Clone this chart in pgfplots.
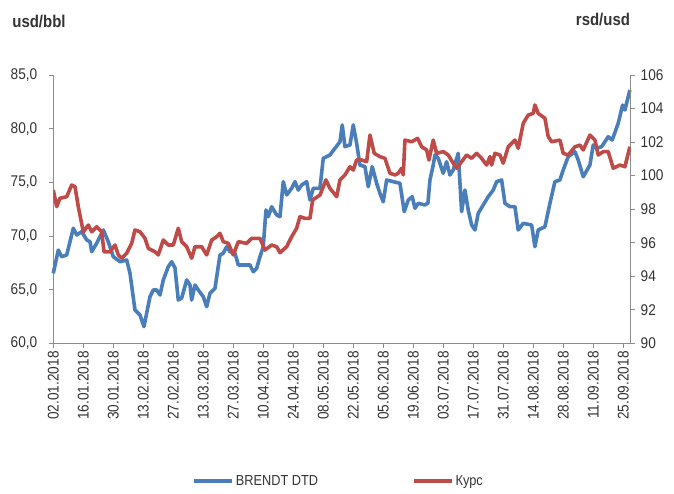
\documentclass[border=0pt]{standalone}
\usepackage{fontspec}
\setmainfont{Liberation Sans}[FakeStretch=0.88]
\usepackage{pgfplots}
\pgfplotsset{compat=1.18}
\definecolor{brentblue}{HTML}{4A7EBB}
\definecolor{kursred}{HTML}{BE4B48}
\definecolor{axisgray}{HTML}{8C8C8C}
\definecolor{txt}{HTML}{333333}
\begin{document}
\begin{tikzpicture}
\useasboundingbox (-53.3pt,-150.7pt) rectangle (620.7pt,343.3pt);
\pgfplotsset{
  every axis/.append style={
    scale only axis, width=577.4pt, height=268.3pt,
    at={(0pt,0pt)}, anchor=south west,
    xmin=0, xmax=192.5,
    tick align=outside, major tick length=4.5pt,
    every tick/.style={draw=axisgray, line width=0.9pt},
    axis line style={draw=axisgray, line width=1.1pt},
    tick label style={font=\fontsize{15.5pt}{18pt}\selectfont, text=txt},
    /pgf/number format/assume math mode=true,
  }
}
\begin{axis}[
  axis y line*=left, axis x line*=bottom,
  ymin=60, ymax=85, ytick={60,65,70,75,80,85},
  yticklabel style={xshift=-8pt, /pgf/number format/.cd, fixed, fixed zerofill, precision=1, use comma},
  xtick={0,10,...,190},
  xticklabels={02.01.2018,16.01.2018,30.01.2018,13.02.2018,27.02.2018,13.03.2018,27.03.2018,10.04.2018,24.04.2018,08.05.2018,22.05.2018,05.06.2018,19.06.2018,03.07.2018,17.07.2018,31.07.2018,14.08.2018,28.08.2018,11.09.2018,25.09.2018},
  x tick label style={rotate=90, anchor=east, xshift=0pt},
  clip=false,
]
\addplot[brentblue, line width=3.6pt, line join=round, no markers] coordinates {
(0,66.52)(1.67,68.69)(2.8,68.07)(4.47,68.23)(6.67,70.72)(7.8,70.09)(9.47,70.40)(11.13,69.63)(12.23,69.47)(12.8,68.54)(14.47,69.32)(16.67,70.56)(18.33,69.47)(20,68.07)(22.23,67.60)(24.47,67.76)(25.57,66.52)(27.23,63.10)(28.9,62.64)(30.23,61.55)(32.23,64.34)(33.33,64.97)(34.47,64.97)(35.57,64.50)(36.67,65.90)(38.33,67.14)(39.47,67.60)(40.57,67.02)(41.67,64.03)(42.8,64.22)(44.47,65.90)(45.57,65.43)(46.13,64.03)(47.23,65.43)(48.33,64.97)(50,64.34)(51.13,63.41)(52.23,64.66)(53.9,65.12)(55.57,68.23)(56.67,68.39)(57.8,69.00)(58.9,68.54)(60.57,68.39)(61.67,67.30)(63.9,67.30)(65.57,67.30)(66.67,66.67)(67.8,66.99)(68.9,68.07)(70,69.00)(70.9,72.42)(71.67,71.80)(72.8,72.73)(74.47,71.96)(75.57,71.80)(76.67,75.06)(77.8,73.82)(79.47,74.44)(80.57,75.06)(81.67,74.28)(82.8,74.75)(84.47,75.06)(85.57,73.35)(86.67,74.44)(88.9,74.44)(90,77.24)(92.23,77.55)(93.9,78.17)(95.57,78.78)(96.33,80.34)(97.23,78.32)(98.9,78.48)(100,80.34)(101.13,78.64)(102.23,76.61)(103.9,76.46)(105,74.59)(106.33,76.46)(107.8,74.91)(108.9,73.97)(110,73.19)(111.13,75.22)(113.33,75.06)(115.57,74.91)(117,72.26)(118.33,73.35)(119.67,73.66)(120.57,72.58)(121.67,73.04)(123.9,72.89)(124.9,73.07)(125.57,75.22)(126.67,76.61)(127.23,77.55)(128.33,77.24)(130,75.84)(131.13,76.92)(132.23,75.68)(133.33,76.15)(135,77.70)(136.13,72.26)(137.23,74.28)(138.33,72.42)(139.47,71.02)(140.57,70.56)(141.67,72.11)(143.33,72.89)(145,73.66)(146.67,74.28)(147.8,75.06)(149.47,75.22)(150.57,73.04)(152.23,72.73)(153.9,72.73)(155,70.56)(156.67,71.18)(159.47,71.02)(160.57,69.00)(161.67,70.56)(163.9,70.86)(165.57,73.04)(167.23,75.06)(168.9,75.22)(170,76.15)(171.67,77.39)(173.9,77.85)(175,77.08)(176.67,75.52)(178.9,76.61)(180,78.48)(181.13,78.17)(182.8,78.32)(185,79.25)(186.33,78.94)(188.33,80.50)(189.8,82.20)(190.57,81.74)(192.23,83.60)
};
\node[font=\bfseries\fontsize{17pt}{20pt}\selectfont, text=txt] at (rel axis cs:-0.0248,1.1975) {usd/bbl};
\node[font=\bfseries\fontsize{17pt}{20pt}\selectfont, text=txt] at (rel axis cs:0.952,1.205) {rsd/usd};
\end{axis}
\begin{axis}[
  axis y line*=right, axis x line=none,
  ymin=90, ymax=106, ytick={90,92,...,106},
  yticklabel style={xshift=2pt},
  legend style={draw=none, fill=none, at={(rel axis cs:0.494,-0.513)}, anchor=center,
    font=\fontsize{14.5pt}{17pt}\selectfont, text=txt, legend columns=2,
    /tikz/every even column/.append style={column sep=92pt}},
  legend image code/.code={\draw[#1, line width=3.6pt] (0pt,0pt) -- (38pt,0pt);},
]
\addlegendimage{brentblue}
\addlegendentry{BRENDT DTD}
\addplot[kursred, line width=3.6pt, line join=round, no markers] coordinates {
(0,99.14)(1.13,98.15)(2.23,98.65)(4.47,98.74)(6.13,99.44)(7.23,99.34)(8.33,98.15)(10,96.65)(11.67,97.05)(12.8,96.65)(14.47,96.95)(16.13,96.65)(16.9,95.46)(18.9,95.46)(20.57,95.86)(21.67,95.27)(22.8,95.07)(24.47,95.37)(26.13,95.96)(27.23,96.76)(28.9,96.65)(30.57,96.26)(31.67,95.66)(33.9,95.46)(35,95.27)(36.67,96.16)(38.33,95.86)(40,95.86)(41.67,96.86)(42.8,96.06)(44.47,95.76)(46.13,95.07)(47.23,95.76)(49.47,95.76)(51.13,95.27)(52.8,96.16)(54.47,96.36)(55.57,96.56)(56.67,96.06)(58.33,95.96)(60,95.27)(61.67,96.06)(64.47,95.96)(66.13,96.26)(68.9,96.26)(70.57,95.56)(72.8,95.86)(74.47,95.76)(75.57,95.40)(77.8,95.76)(79.47,96.36)(81.13,96.86)(82.23,97.55)(83.9,97.45)(85.57,97.45)(86.47,98.55)(88.9,98.84)(90.9,99.74)(92.23,99.24)(94.47,98.74)(95.57,99.74)(97.23,100.04)(98.9,100.53)(100,100.33)(101.13,100.93)(102.8,100.93)(104.47,100.83)(105.57,102.42)(107,101.33)(108.9,101.13)(110.57,101.03)(112.23,100.14)(113.9,100.04)(115,100.14)(116.13,100.44)(116.67,100.04)(117.23,102.12)(119.47,102.02)(121.47,102.22)(122.8,101.72)(124.47,101.53)(125.23,100.93)(126.67,102.12)(127.8,101.33)(130,101.43)(131.67,101.23)(133.33,100.74)(134.47,100.44)(136.13,100.83)(137.8,101.23)(139.47,101.03)(141.13,101.33)(142.8,101.03)(144.47,100.63)(145.57,101.13)(146.13,100.63)(147.23,101.33)(148.9,101.23)(150,100.74)(151.67,101.72)(153.9,102.12)(155,101.63)(156.67,103.12)(158.33,103.61)(160,103.71)(160.57,104.21)(161.67,103.71)(163.9,103.42)(165,102.32)(166.13,102.02)(168.9,102.12)(170,101.33)(171.67,101.23)(173.9,101.72)(175.57,101.82)(176.67,101.53)(178.9,102.42)(180.57,102.12)(181.67,101.23)(183.33,101.43)(185,101.43)(186.67,100.44)(188.9,100.63)(190.57,100.53)(192.23,101.72)
};
\addlegendentry{Курс}
\end{axis}
\end{tikzpicture}
\end{document}
